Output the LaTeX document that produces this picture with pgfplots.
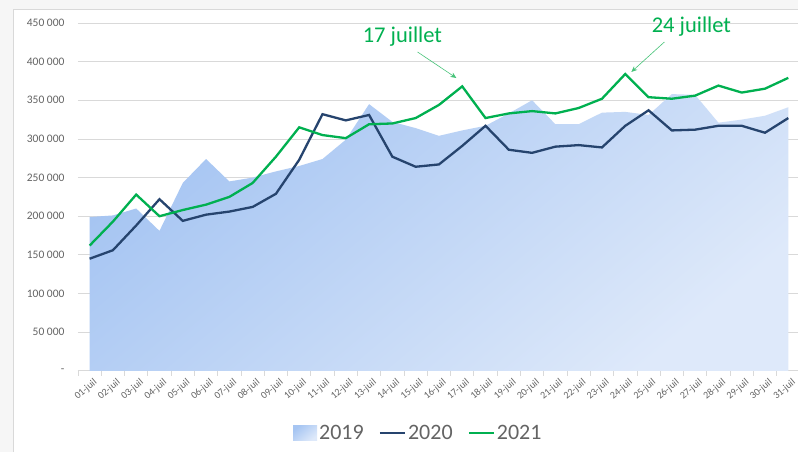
\documentclass[border=0pt]{standalone}
\usepackage{fontspec}
\setmainfont{Carlito}
\usepackage{pgfplots}
\usepackage{pgfplotstable}
\pgfplotsset{compat=1.18}
\usetikzlibrary{arrows.meta}
\definecolor{c20}{RGB}{38,68,110}
\definecolor{c21}{RGB}{0,176,80}
\definecolor{cA}{RGB}{166,197,242}
\definecolor{cB}{RGB}{222,233,250}
\definecolor{cLeg}{RGB}{176,204,244}
\definecolor{tickgray}{RGB}{100,100,100}
\definecolor{gridgray}{RGB}{217,217,217}
\definecolor{arrowgreen}{RGB}{70,195,120}

\pgfplotstableread{
x y19 y20 y21
0 199000 145000 162000
1 201000 156000 193000
2 210000 188000 228000
3 181000 222000 200000
4 243000 194000 208000
5 274000 202000 215000
6 245000 206000 225000
7 250000 212000 243000
8 258000 229000 277000
9 265000 273000 315000
10 274000 332000 305000
11 299000 324000 301000
12 345000 331000 319000
13 322000 277000 320000
14 314000 264000 327000
15 304000 267000 344000
16 311000 291000 368000
17 317000 317000 327000
18 333000 286000 333000
19 350000 282000 336000
20 319000 290000 333000
21 319000 292000 340000
22 334000 289000 352000
23 335000 317000 384000
24 331000 337000 354000
25 358000 311000 352000
26 357000 312000 356000
27 321000 317000 369000
28 325000 317000 360000
29 330000 308000 365000
30 341000 327000 379000
}\data

\begin{document}
\begin{tikzpicture}[x=1pt,y=1pt]
\fill[gray!7] (0,0) rectangle (798,452);
\fill[white] (13,0) rectangle (798,443);
\draw[gridgray, line width=0.8pt] (13,0) -- (13,443) -- (798,443);
\useasboundingbox (0,0) rectangle (798,452);
\begin{axis}[
  at={(78pt,81pt)}, anchor=south west,
  scale only axis, width=720pt, height=348pt,
  xmin=-0.5, xmax=30.4, ymin=0, ymax=450000,
  clip=false, scaled y ticks=false,
  axis x line*=bottom, axis y line*=left,
  y axis line style={draw=none},
  x axis line style={gridgray, line width=0.8pt},
  ymajorgrids, grid style={gridgray, line width=0.8pt},
  ytick={0,50000,100000,150000,200000,250000,300000,350000,400000,450000},
  yticklabels={-\hspace{8pt},50 000,100 000,150 000,200 000,250 000,300 000,350 000,400 000,450 000},
  yticklabel style={font=\fontsize{11.5}{13}\selectfont, text=tickgray, xshift=-10pt},
  xtick={0,...,30},
  xticklabels={01-juil,02-juil,03-juil,04-juil,05-juil,06-juil,07-juil,08-juil,09-juil,10-juil,11-juil,12-juil,13-juil,14-juil,15-juil,16-juil,17-juil,18-juil,19-juil,20-juil,21-juil,22-juil,23-juil,24-juil,25-juil,26-juil,27-juil,28-juil,29-juil,30-juil,31-juil},
  xticklabel style={rotate=40, anchor=east, font=\fontsize{10}{11}\selectfont, text=tickgray, inner sep=1pt, xshift=-1pt, yshift=-12pt},
  minor xtick={-0.5,0.5,...,30.5},
  major tick length=0pt, minor tick length=5pt, tick align=outside,
  minor x tick style={gridgray, line width=0.8pt},
  legend style={at={(0.473,-0.178)}, anchor=center, draw=none, fill=none,
    font=\fontsize{22}{24}\selectfont, text=tickgray,
    /tikz/every even column/.append style={column sep=13pt}},
  legend columns=3,
]
\addplot[draw=none, top color=cA, bottom color=cB, shading angle=40,
  legend image code/.code={\fill[cLeg] (0pt,-7.5pt) rectangle (24pt,7.5pt);}]
  table[x=x,y=y19] {\data} \closedcycle;
\addlegendentry{2019}
\addplot[c20, line width=2.3pt, mark=none,
  legend image code/.code={\draw[c20, line width=2.3pt] (0pt,0pt) -- (25pt,0pt);}]
  table[x=x,y=y20] {\data};
\addlegendentry{2020}
\addplot[c21, line width=2.3pt, mark=none,
  legend image code/.code={\draw[c21, line width=2.3pt] (0pt,0pt) -- (25pt,0pt);}]
  table[x=x,y=y21] {\data};
\addlegendentry{2021}
\node[text=c21, font=\fontsize{22.5}{26}\selectfont] at (axis cs:13.43,432000) {17 juillet};
\node[text=c21, font=\fontsize{22.5}{26}\selectfont] at (axis cs:25.84,445000) {24 juillet};
\draw[-{Stealth[length=6pt,width=5pt]}, arrowgreen, line width=0.6pt] (axis cs:14.08,412500) -- (axis cs:15.75,378800);
\draw[-{Stealth[length=6pt,width=5pt]}, arrowgreen, line width=0.6pt] (axis cs:24.68,425400) -- (axis cs:23.26,386600);
\end{axis}
\end{tikzpicture}
\end{document}
